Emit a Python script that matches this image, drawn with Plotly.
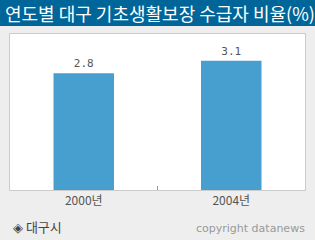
import plotly.graph_objects as go

categories = ["2000년", "2004년"]
values = [2.8, 3.1]
title_text = "연도별 대구 기초생활보장 수급자 비율(%)"
source_text = "◈ 대구시"
credit_text = "copyright datanews"

W, H = 315, 240
L, R, T, B = 10, 10, 34, 50
pw, ph = W - L - R, H - T - B

def px_x(x):
    return (x - L) / pw

def px_y(y):
    return (H - B - y) / ph

fig = go.Figure(go.Bar(
    x=categories, y=values,
    marker=dict(color="#479FCF", line=dict(width=0)),
    text=[f"{v:.1f}" for v in values],
    textposition="outside",
    textfont=dict(family="DejaVu Sans Mono", size=11, color="#555555"),
    cliponaxis=False,
    width=0.41,
))

fig.update_layout(
    width=W, height=H,
    margin=dict(l=L, r=R, t=T, b=B, pad=0),
    paper_bgcolor="#EEEEEE",
    plot_bgcolor="#FFFFFF",
    showlegend=False,
    xaxis=dict(
        showline=True, linecolor="#CCCCCC", linewidth=1, mirror=True,
        ticks="inside", tickson="boundaries", ticklen=4, tickcolor="#999999",
        tickfont=dict(family="Noto Sans CJK KR", size=12, color="#555555"),
        showgrid=False,
    ),
    yaxis=dict(
        range=[0, 3.74], visible=True, showticklabels=False, ticks="",
        showgrid=False, zeroline=False,
        showline=True, linecolor="#CCCCCC", linewidth=1, mirror=True,
    ),
    shapes=[dict(
        type="rect", xref="paper", yref="paper",
        x0=px_x(0), x1=px_x(W), y0=px_y(26), y1=px_y(0),
        fillcolor="#006699", line=dict(width=0), layer="below",
    )],
    annotations=[
        dict(text=title_text, xref="paper", yref="paper",
             x=px_x(3), y=px_y(13), xanchor="left", yanchor="middle",
             showarrow=False,
             font=dict(family="Noto Sans CJK KR", size=18, color="#FFFFFF")),
        dict(text=source_text, xref="paper", yref="paper",
             x=px_x(11), y=px_y(226), xanchor="left", yanchor="middle",
             showarrow=False,
             font=dict(family="Noto Sans CJK KR", size=13, color="#444444")),
        dict(text=credit_text, xref="paper", yref="paper",
             x=px_x(307), y=px_y(228), xanchor="right", yanchor="middle",
             showarrow=False,
             font=dict(family="DejaVu Sans", size=11, color="#999999")),
    ],
)

fig.write_html("out.html")
